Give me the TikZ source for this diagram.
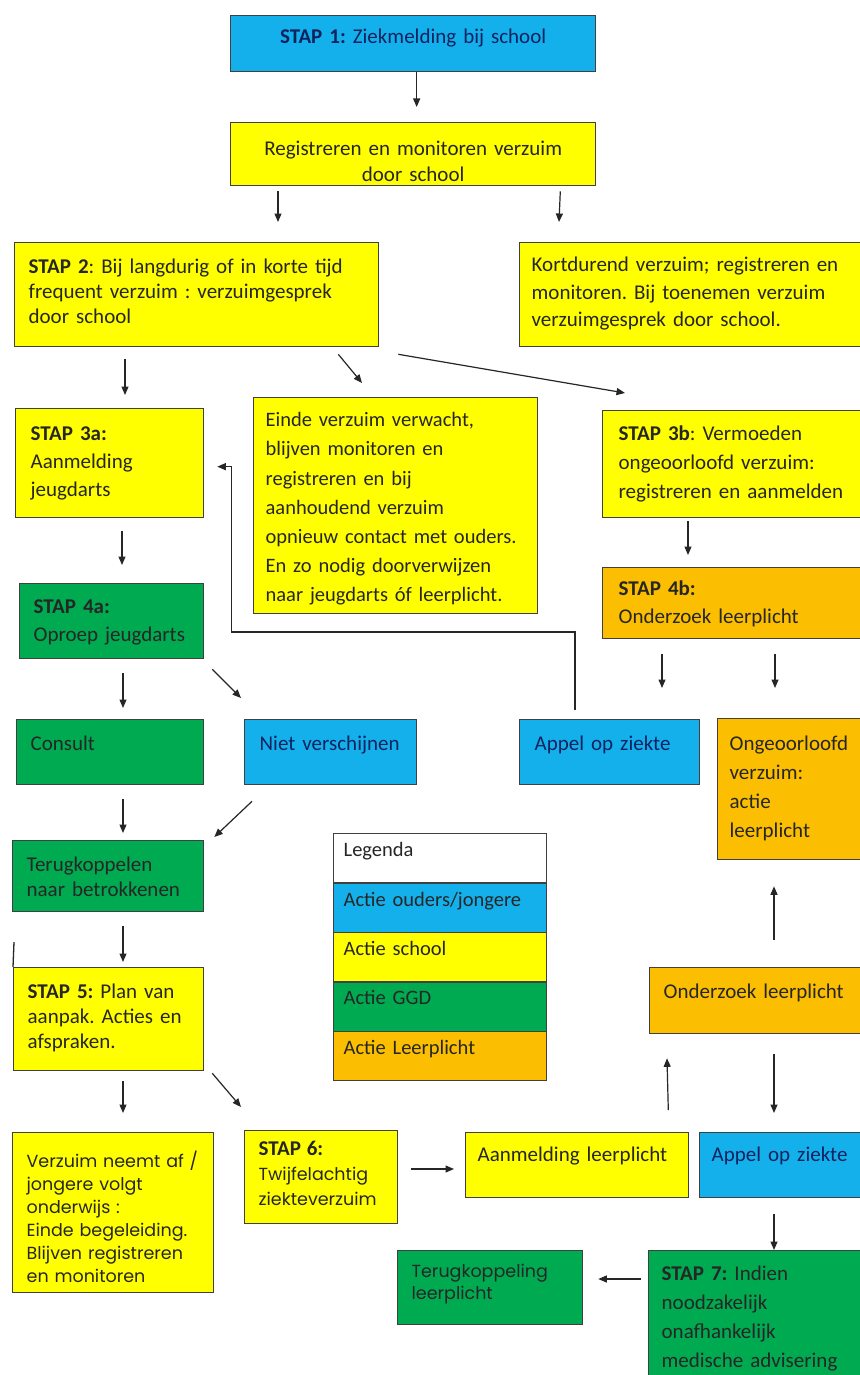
\documentclass[tikz,border=0pt]{standalone}
\usepackage{fontspec}
\setmainfont{Carlito}[WordSpace=0.7]
\newfontfamily\gothic{Poppins}
\usetikzlibrary{arrows.meta}

\definecolor{kblue}{RGB}{20,176,236}
\definecolor{kyellow}{RGB}{255,255,0}
\definecolor{kgreen}{RGB}{0,170,80}
\definecolor{korange}{RGB}{252,190,0}
\definecolor{kink}{RGB}{15,35,95}

\frenchspacing
\hyphenpenalty=10000
\exhyphenpenalty=10000

\tikzset{
  box/.style={draw=black!75, line width=1.3pt, anchor=north west, align=left,
    inner xsep=14pt, inner ysep=0pt, text=black!85, font=\fontsize{21}{28}\selectfont},
  sz/.style n args={3}{text width=#1pt, text height=#2pt, text depth=#3pt},
  ls/.style={font=\fontsize{21}{#1}\selectfont},
  gls/.style={font=\gothic\fontsize{17.5}{#1}\selectfont},
  arr/.style={-{Triangle[length=8.5pt,width=7pt]}, line width=1.2pt, black!85},
}

\begin{document}
\begin{tikzpicture}[x=1pt, y=-1pt]
\useasboundingbox (0,0) rectangle (859,1375);
\fill[white] (0,0) rectangle (859,1375);

% top
\node[box, fill=kblue, text=kink, align=center, sz={337}{28}{28}] (stap1) at (230,15) {\textbf{STAP 1:} Ziekmelding bij school};
\node[box, fill=kyellow, align=center, ls=26, sz={337}{33}{30}] (reg) at (230,122) {Registreren en monitoren verzuim\\door school};

% step 2
\node[box, fill=kyellow, inner xsep=14pt, ls=25, sz={336}{31}{73}] (stap2) at (14,242) {\textbf{STAP 2}: Bij langdurig of in korte tijd\\frequent verzuim : verzuimgesprek\\door school};
\node[box, fill=kyellow, inner xsep=12pt, ls=27.5, sz={321}{29}{75}] (kort) at (519,242) {Kortdurend verzuim; registreren en\\monitoren. Bij toenemen verzuim\\verzuimgesprek door school.};

% step 3
\node[box, fill=kyellow, inner xsep=15pt, sz={158}{32}{77}] (stap3a) at (15,408) {\textbf{STAP 3a:}\\Aanmelding\\jeugdarts};
\node[box, fill=kyellow, inner xsep=12pt, font=\fontsize{20.5}{29.2}\selectfont, sz={260}{29}{187}] (einde) at (253,397) {Einde verzuim verwacht,\\blijven monitoren en\\registreren en bij\\aanhoudend verzuim\\opnieuw contact met ouders.\\En zo nodig doorverwijzen\\naar jeugdarts óf leerplicht.};
\node[box, fill=kyellow, inner xsep=16pt, ls=29, sz={230}{30}{77}] (stap3b) at (602,410) {\textbf{STAP 3b}: Vermoeden\\ongeoorloofd verzuim:\\registreren en aanmelden};

% step 4
\node[box, fill=kgreen, inner xsep=14pt, sz={156}{30}{45}] (stap4a) at (19,583) {\textbf{STAP 4a:}\\Oproep jeugdarts};
\node[box, fill=korange, inner xsep=16pt, sz={230}{28}{43}] (stap4b) at (602,567) {\textbf{STAP 4b:}\\Onderzoek leerplicht};

\node[box, fill=kgreen, sz={159}{31}{34}] (consult) at (16,719) {Consult};
\node[box, fill=kblue, text=kink, inner xsep=15pt, sz={142}{31}{34}] (niet) at (244,719) {Niet verschijnen};
\node[box, fill=kblue, text=kink, inner xsep=15pt, sz={150}{31}{34}] (appel) at (519,719) {Appel op ziekte};
\node[box, fill=korange, inner xsep=12pt, ls=29, sz={123}{32}{109}] (ongeo) at (717,718) {Ongeoorloofd\\verzuim:\\actie\\leerplicht};

\node[box, fill=kgreen, inner xsep=14pt, ls=25, sz={163}{31}{40}] (terug) at (12,840) {Terugkoppelen\\naar betrokkenen};

% legenda
\foreach \txt/\col [count=\i from 0] in {Legenda/white, {Actie ouders/jongere}/kblue, {Actie school}/kyellow, {Actie GGD}/kgreen, {Actie Leerplicht}/korange}
  \node[box, fill=\col, inner xsep=10pt, font=\fontsize{20.5}{26}\selectfont, sz={193}{23}{26.4}] (leg\i) at (333,{833+49.4*\i}) {\txt};

% step 5
\node[box, fill=korange, sz={187}{31}{35}] (onderz) at (649,967) {Onderzoek leerplicht};
\node[box, fill=kyellow, ls=25, sz={162}{31}{72}] (stap5) at (13,967) {\textbf{STAP 5:} Plan van\\aanpak. Acties en\\afspraken.};
\draw[line width=1.3pt, black!85] (stap5.north west) -- ++(1,-25);

% step 6
\node[box, fill=kyellow, gls=23, sz={173}{35}{125}] (verzuim) at (12,1132) {Verzuim neemt af /\\jongere volgt\\onderwijs :\\Einde begeleiding.\\Blijven registreren\\en monitoren};
\node[box, fill=kyellow, gls=25, sz={125}{25}{68}] (stap6) at (244,1130) {{\rmfamily\fontsize{21}{25}\selectfont\textbf{STAP 6:}}\\Twijfelachtig\\ziekteverzuim};
\node[box, fill=kyellow, inner xsep=12pt, sz={199}{29}{36}] (aanm) at (465,1132) {Aanmelding leerplicht};
\node[box, fill=kblue, text=kink, inner xsep=12pt, sz={141}{29}{36}] (appel2) at (699,1132) {Appel op ziekte};

% step 7
\node[box, fill=kgreen, inner xsep=13pt, ls=29, sz={190}{30}{100}] (stap7) at (648,1250) {\textbf{STAP 7:} Indien\\noodzakelijk\\onafhankelijk\\medische advisering};
\node[box, fill=kgreen, gls=22, sz={157}{27}{47}] (terugk) at (397,1250) {Terugkoppeling\\leerplicht};

% arrows
\draw[arr] ([shift={(3.5,0)}]stap1.south) -- ([shift={(3.5,-15)}]reg.north);
\draw[arr] ([shift={(48,5)}]reg.south west) -- ([shift={(264,-20)}]stap2.north west);
\draw[arr] ([shift={(-36,5)}]reg.south east) -- ([shift={(40,-20)}]kort.north west);
\draw[arr] ([shift={(111,12)}]stap2.south west) -- ([shift={(110,-13)}]stap3a.north west);
\draw[arr] ([shift={(-41,7)}]stap2.south east) -- ([shift={(109,-14)}]einde.north west);
\draw[arr] ([shift={(19,7)}]stap2.south east) -- ([shift={(23,-17)}]stap3b.north west);
\draw[arr] ([shift={(107,13)}]stap3a.south west) -- ([shift={(103,-18)}]stap4a.north west);
\draw[arr] ([shift={(86,3)}]stap3b.south west) -- ([shift={(86,-12)}]stap4b.north west);
\draw[arr] ([shift={(104,14)}]stap4a.south west) -- ([shift={(107,-11)}]consult.north west);
\draw[arr] ([shift={(8,10)}]stap4a.south east) -- ([shift={(-3,-21)}]niet.north west);
\draw[arr] ([shift={(60,15)}]stap4b.south west) -- ([shift={(143,-31)}]appel.north west);
\draw[arr] ([shift={(173,15)}]stap4b.south west) -- ([shift={(58,-30)}]ongeo.north west);
\draw[arr] ([shift={(56,-9)}]appel.north west) -- ++(0,-78) -| ([shift={(27,3.5)}]stap3a.east) -- ([shift={(13,3.5)}]stap3a.east);
\draw[arr] ([shift={(107,14)}]consult.south west) -- ([shift={(111,-7)}]terug.north west);
\draw[arr] ([shift={(8,16)}]niet.south west) -- ([shift={(10,-3)}]terug.north east);
\draw[arr] ([shift={(111,14)}]terug.south west) -- ([shift={(110,-5)}]stap5.north west);
\draw[arr] ([shift={(110,10)}]stap5.south west) -- ([shift={(111,-19)}]verzuim.north west);
\draw[arr] ([shift={(8,2)}]stap5.south east) -- ([shift={(-3,-23)}]stap6.north west);
\draw[arr] ([shift={(13,39)}]stap6.north east) -- ([shift={(-11,37)}]aanm.north west);
\draw[arr] ([shift={(-21,-22)}]aanm.north east) -- ([shift={(18,24)}]onderz.south west);
\draw[arr] ([shift={(125,-27)}]onderz.north west) -- ([shift={(57,26)}]ongeo.south west);
\draw[arr] ([shift={(125,20)}]onderz.south west) -- ([shift={(75,-19)}]appel2.north west);
\draw[arr] ([shift={(75,16)}]appel2.south west) -- ([shift={(126,0)}]stap7.north west);
\draw[arr] ([shift={(-7,29)}]stap7.north west) -- ([shift={(15,29)}]terugk.north east);
\end{tikzpicture}
\end{document}
